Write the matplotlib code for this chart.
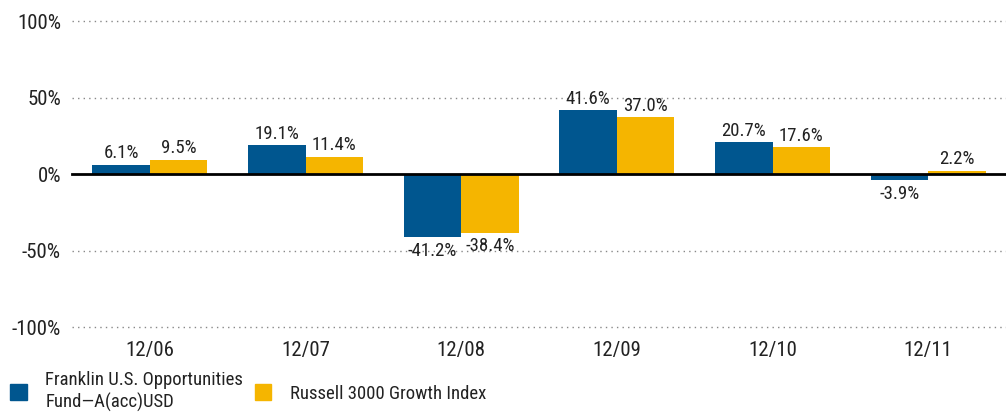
import numpy as np
import matplotlib.pyplot as plt
from matplotlib.patches import Patch

years = ['12/06', '12/07', '12/08', '12/09', '12/10', '12/11']
fund = [6.1, 19.1, -41.2, 41.6, 20.7, -3.9]
index = [9.5, 11.4, -38.4, 37.0, 17.6, 2.2]
names = ['Franklin U.S. Opportunities\nFund\u2014A(acc)USD', 'Russell 3000 Growth Index']
colors = ['#00568f', '#f5b500']

plt.rcParams['font.family'] = ['Roboto Condensed', 'Liberation Sans Narrow', 'DejaVu Sans']

fig = plt.figure(figsize=(10.06, 4.12), dpi=100)
ax = fig.add_axes([0.0716, 0.206, 0.9284, 0.743])

x = np.arange(len(years))
w = 0.37
b1 = ax.bar(x - w / 2, fund, w, color=colors[0], zorder=3)
b2 = ax.bar(x + w / 2, index, w, color=colors[1], zorder=3)

# value labels above / below each bar
for bars, vals in ((b1, fund), (b2, index)):
    for r, v in zip(bars, vals):
        cx = r.get_x() + r.get_width() / 2
        if v >= 0:
            ax.text(cx, v + 1.5, f'{v:.1f}%', ha='center', va='bottom', fontsize=13.5, color='#222222')
        else:
            ax.text(cx, v - 3, f'{v:.1f}%', ha='center', va='top', fontsize=13.5, color='#222222')

ax.set_xlim(-0.5, 5.5)
ax.set_ylim(-100, 100)
ax.set_yticks([-100, -50, 0, 50, 100])
ax.set_yticklabels(['-100%', '-50%', '0%', '50%', '100%'], fontsize=15, color='#222222')
ax.set_xticks(x)
ax.set_xticklabels(years, fontsize=15, color='#222222')
ax.tick_params(length=0, pad=8)
ax.tick_params(axis='x', pad=10)
for s in ax.spines.values():
    s.set_visible(False)
for g in (-100, -50, 50, 100):
    ax.axhline(g, color='#888888', lw=1, ls=(0, (1, 3)), zorder=1, clip_on=False)
ax.axhline(0, color='black', lw=2, zorder=4, clip_on=False)

handles = [Patch(color=c) for c in colors]
fig.legend(handles, names, loc='lower left', bbox_to_anchor=(-0.007, -0.04), ncol=2,
           frameon=False, fontsize=13.5, handlelength=0.9, handleheight=1.0,
           handletextpad=1.0, columnspacing=0.6, labelcolor='#222222')

fig.savefig('out.png', dpi=100)
